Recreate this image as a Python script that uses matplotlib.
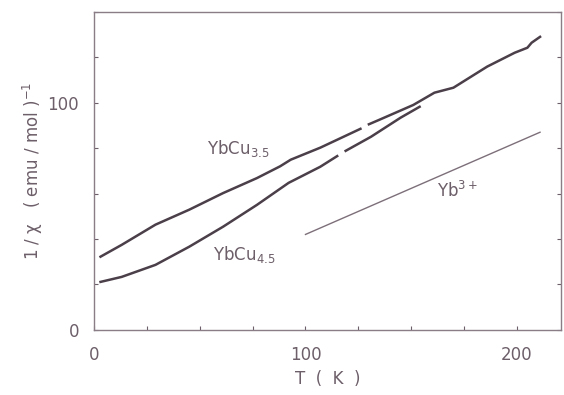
import numpy as np
import matplotlib
matplotlib.use('Agg')
import matplotlib.pyplot as plt
from matplotlib.ticker import MultipleLocator

# YbCu3.5 (upper curve)
t_35 = [3, 13, 29, 45, 61, 77, 88, 93, 107, 118, 126, 128, 130, 135, 151, 161, 170, 186, 199, 205, 207, 211]
chi_35 = [32.2, 37.4, 46.3, 52.9, 60.2, 66.8, 72, 74.9, 80.2, 85, 88.5, np.nan, 90.5, 92.5, 99, 104.4, 106.6, 115.9, 122, 124.2, 126.4, 129]

# YbCu4.5 (lower curve), joins the upper one near 155 K
t_45 = [3, 13, 29, 45, 61, 77, 92, 107, 115, 117, 119, 131, 145, 154]
chi_45 = [21.1, 23.3, 28.6, 36.6, 45.4, 55, 64.7, 71.8, 76.5, np.nan, 78.8, 85, 93.4, 98.2]

# free Yb3+ Curie-Weiss line
t_yb = [100, 211]
chi_yb = [42, 87]

ink = '#4b3f49'
txt = '#6d5f69'

fig = plt.figure(figsize=(5.64, 3.95), dpi=100)
ax = fig.add_axes([0.167, 0.165, 0.828, 0.805])

ax.plot(t_35, chi_35, color=ink, lw=1.8)
ax.plot(t_45, chi_45, color=ink, lw=1.8)
ax.plot(t_yb, chi_yb, color='#7d6f79', lw=1.0)

ax.set_xlim(0, 221)
ax.set_ylim(0, 140)

ax.xaxis.set_major_locator(MultipleLocator(100))
ax.xaxis.set_minor_locator(MultipleLocator(25))
ax.yaxis.set_major_locator(MultipleLocator(100))
ax.yaxis.set_minor_locator(MultipleLocator(20))
ax.tick_params(which='both', direction='in', color=txt, right=True, length=3, width=0.8)
ax.tick_params(axis='x', pad=12, labelsize=12, labelcolor=txt)
ax.tick_params(axis='y', pad=11, labelsize=12, labelcolor=txt)

for s in ax.spines.values():
    s.set_color('#8a7d86')
    s.set_linewidth(1.0)

ax.set_xlabel('T  (  K  )', fontsize=12, color=txt, labelpad=4)
ax.set_ylabel('1 / χ   ( emu / mol )$^{-1}$', fontsize=12, color=txt, labelpad=2)

ax.text(68, 80, 'YbCu$_{3.5}$', fontsize=12, color=txt, ha='center', va='center')
ax.text(71, 33, 'YbCu$_{4.5}$', fontsize=12, color=txt, ha='center', va='center')
ax.text(172, 61, 'Yb$^{3+}$', fontsize=12, color=txt, ha='center', va='center')

fig.savefig('out.png', dpi=100)
